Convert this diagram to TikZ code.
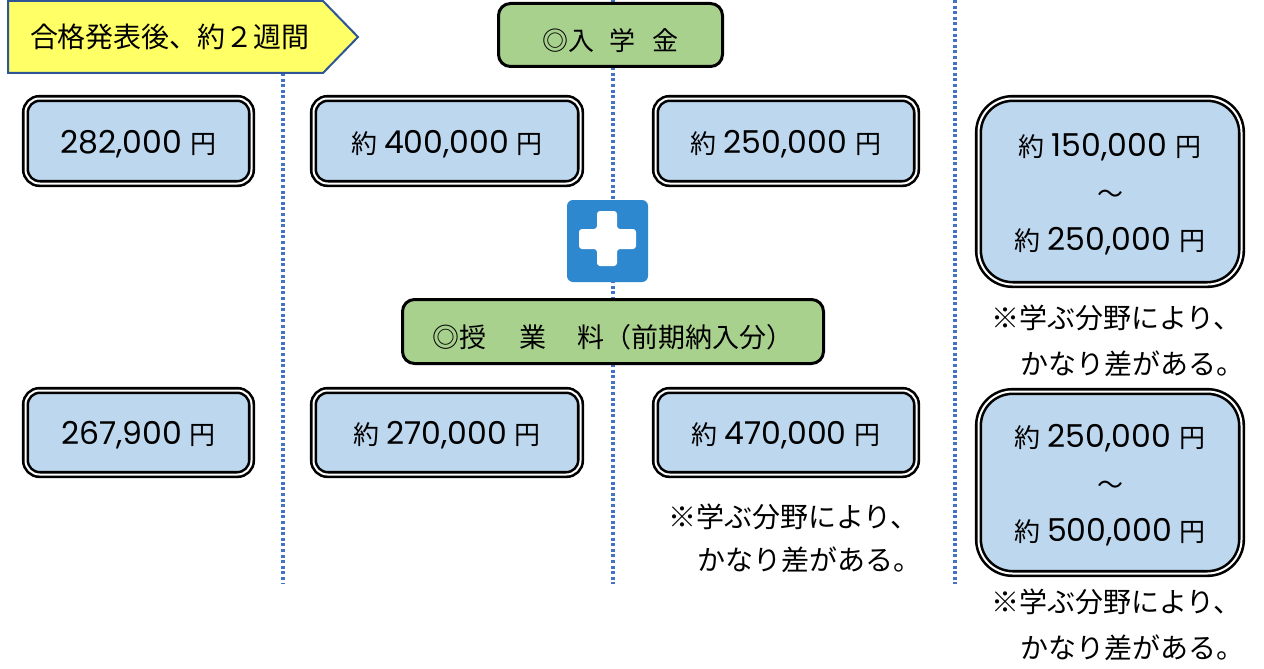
\documentclass[tikz,border=0pt]{standalone}
\usepackage{fontspec}
\setmainfont{Noto Sans CJK JP}
\newfontfamily\numff{Poppins}
\newcommand\nm[1]{{\numff\fontsize{31.5}{34}\selectfont #1}}
\newcommand\dropby[2]{\raisebox{-#1}[\height][\depth]{#2}}
\newcommand\yakuamt[1]{\dropby{3pt}{約\hspace{7pt}\nm{#1}\hspace{8pt}円}}
\newcommand\plainamt[1]{\dropby{3pt}{\nm{#1}\hspace{8pt}円}}
\definecolor{boxblue}{HTML}{BDD7EE}
\definecolor{boxgreen}{HTML}{A9D18E}
\definecolor{tagyellow}{HTML}{FFFF66}
\definecolor{tagborder}{HTML}{2F5597}
\definecolor{dotblue}{HTML}{4472C4}
\definecolor{plusblue}{HTML}{2E88D0}
\tikzset{
  amountbox/.style={rectangle, rounded corners=14pt, fill=boxblue, draw=black,
    double=white, double distance=2pt, line width=2.6pt, inner sep=0pt,
    font=\fontsize{26}{47}\selectfont, align=center},
  bigbox/.style={amountbox, rounded corners=34pt},
  headbox/.style={rectangle, rounded corners=12pt, fill=boxgreen, draw=black,
    line width=3pt, inner sep=0pt, font=\fontsize{26}{30}\selectfont},
  divider/.style={dotblue, line width=3.4pt, dash pattern=on 3pt off 2.6pt},
  notetext/.style={anchor=west, inner sep=0pt, font=\fontsize{28}{30}\selectfont},
}
\begin{document}
\begin{tikzpicture}[x=1pt,y=-1pt]
\useasboundingbox (0,0) rectangle (1264,669);
\fill[white] (0,0) rectangle (1264,669);

% dividers
\coordinate (d1t) at (283,73);  \coordinate (d1b) at (283,584);
\coordinate (d2t) at (613,0);   \coordinate (d2b) at (613,584);
\coordinate (d3t) at (955,0);   \coordinate (d3b) at (955,584);
\draw[divider] (d1t) -- (d1b);
\draw[divider] (d2t) -- (d2b);
\draw[divider] (d3t) -- (d3b);

% yellow tag
\draw[fill=tagyellow, draw=tagborder, line width=2pt]
  (8,1) -- (323,1) -- (358,37) -- (323,73) -- (8,73) -- cycle;
\node[inner sep=0pt, font=\fontsize{28}{30}\selectfont] (tag) at (170,37) {合格発表後、約２週間};

% green headers
\node[headbox, minimum width=224pt, minimum height=63pt] (entry) at (610.5,35)
  {\dropby{6pt}{◎入\hspace{16pt}学\hspace{17pt}金}};
\node[headbox, minimum width=421pt, minimum height=64pt, font=\fontsize{27}{30}\selectfont] (tuition) at (613,331.5)
  {\dropby{6pt}{◎授\hspace{34pt}業\hspace{31pt}料（前期納入分）}};

% row 1
\node[amountbox, minimum width=226pt, minimum height=85pt] (b1) at (138.5,141) {\plainamt{282,000}};
\node[amountbox, minimum width=267pt, minimum height=85pt] (b2) at (447,141) {\yakuamt{400,000}};
\node[amountbox, minimum width=261pt, minimum height=85pt] (b3) at (786,141) {\yakuamt{250,000}};
\node[bigbox, minimum width=263pt, minimum height=186pt] (b4) at (1110,191.5)
  {\yakuamt{150,000}\\\dropby{3pt}{～}\\\yakuamt{250,000}};

% row 2
\node[amountbox, minimum width=226pt, minimum height=84pt] (b5) at (138.5,432.5) {\plainamt{267,900}};
\node[amountbox, minimum width=267pt, minimum height=84pt] (b6) at (447,432.5) {\yakuamt{270,000}};
\node[amountbox, minimum width=261pt, minimum height=84pt] (b7) at (786,432.5) {\yakuamt{470,000}};
\node[bigbox, minimum width=263pt, minimum height=182pt] (b8) at (1110,482.5)
  {\yakuamt{250,000}\\\dropby{3pt}{～}\\\yakuamt{500,000}};

% plus icon
\fill[plusblue, rounded corners=6pt] (567,200) rectangle (648,282);
\fill[white, rounded corners=3pt] (597,211) -- (617,211) -- (617,229) -- (636,229) -- (636,249)
  -- (617,249) -- (617,266) -- (597,266) -- (597,249) -- (579,249) -- (579,229) -- (597,229) -- cycle;

% notes
\node[notetext] (n1a) at (991,318) {※学ぶ分野により、};
\node[notetext] (n1b) at (1020,364) {かなり差がある。};
\node[notetext] (n2a) at (668,517) {※学ぶ分野により、};
\node[notetext] (n2b) at (697,560) {かなり差がある。};
\node[notetext] (n3a) at (991,602) {※学ぶ分野により、};
\node[notetext] (n3b) at (1020,648) {かなり差がある。};
\end{tikzpicture}
\end{document}
